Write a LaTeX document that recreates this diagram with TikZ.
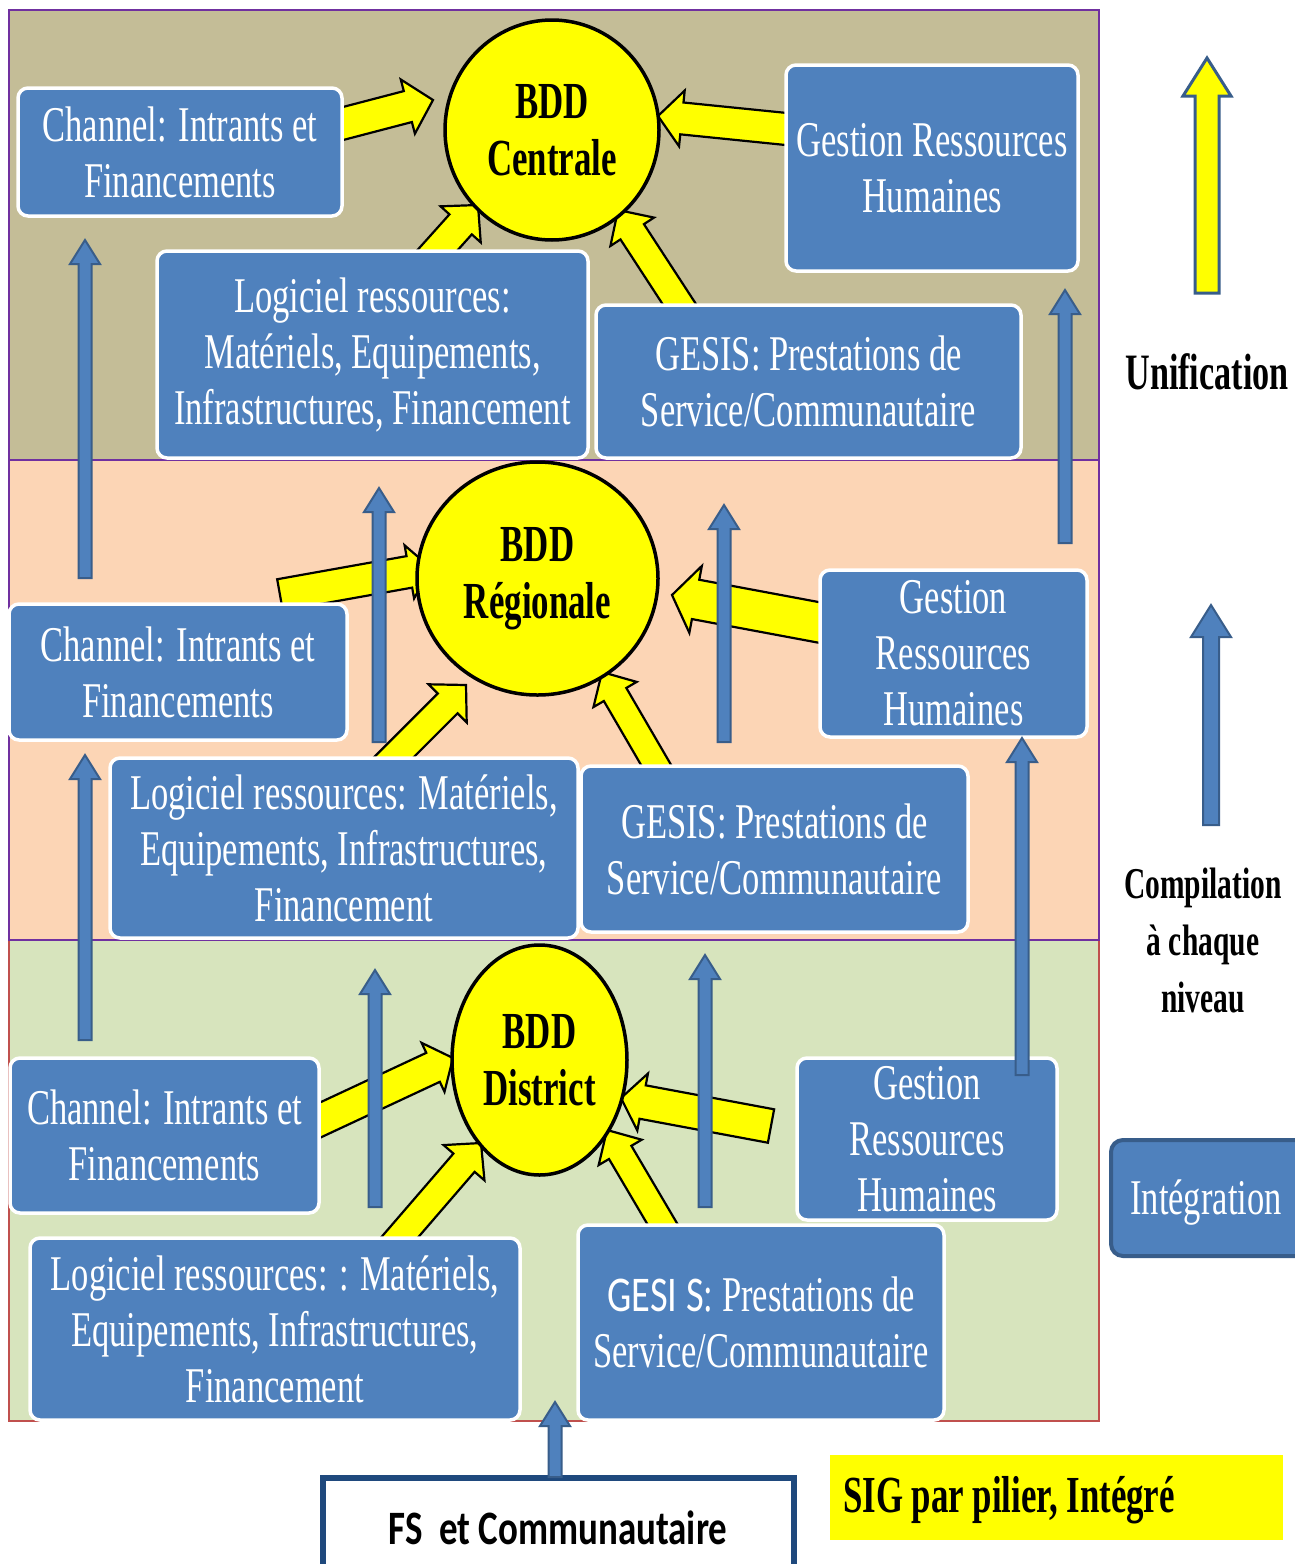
\documentclass[tikz,border=0pt]{standalone}
\usepackage{fontspec}
\setmainfont{Liberation Serif}
\newfontfamily\cnd[FakeStretch=0.69]{Liberation Serif}
\newfontfamily\cndbold[FakeStretch=0.67]{Liberation Serif Bold}
\newfontfamily\sansc[FakeStretch=0.77]{Carlito}
\usetikzlibrary{shapes.geometric,calc}

\definecolor{tanbg}{HTML}{C4BD97}
\definecolor{peachbg}{HTML}{FCD5B5}
\definecolor{greenbg}{HTML}{D7E4BD}
\definecolor{boxblue}{HTML}{4F81BD}
\definecolor{edgeblue}{HTML}{385D8A}
\definecolor{navy}{HTML}{1F497D}
\definecolor{bandpurple}{HTML}{7030A0}
\definecolor{bandred}{HTML}{C0504D}
\definecolor{dbyellow}{HTML}{FFFF00}

\pgfdeclarelayer{bands}
\pgfdeclarelayer{flows}
\pgfdeclarelayer{ups}
\pgfsetlayers{bands,flows,main,ups}

% block arrow: style, tail, tip, shaft half width, head half width, head length
\newcommand\blockarrow[6]{%
  \coordinate (ba-h) at ($(#3)!#6!(#2)$);
  \path[#1] ($(#2)!#4!90:(#3)$) -- ($(ba-h)!#4!90:(#3)$) -- ($(ba-h)!#5!90:(#3)$) -- (#3)
    -- ($(ba-h)!#5!-90:(#3)$) -- ($(ba-h)!#4!-90:(#3)$) -- ($(#2)!#4!-90:(#3)$) -- cycle;}

% blue box given by its corners
\newcommand\boxat[6]{%
  \node[box, minimum width={#4-#2}, minimum height={#5-#3}] (#1) at ({(#2+#4)/2},{(#3+#5)/2}) {#6};}

\tikzset{
  box/.style={rectangle, rounded corners=10pt, draw=white, line width=3.5pt, fill=boxblue,
    text=white, align=center, inner sep=0pt, font=\cnd\fontsize{50}{56}\selectfont},
  db/.style={ellipse, draw=black, line width=3.5pt, fill=dbyellow, align=center, inner sep=0pt,
    font=\cndbold\fontsize{52}{57}\selectfont},
  yarrow/.style={fill=dbyellow, draw=black, line width=2.2pt, line join=miter},
  barrow/.style={fill=boxblue, draw=edgeblue, line width=2pt},
  sidetext/.style={align=center, inner sep=0pt, font=\cndbold\fontsize{51}{56}\selectfont},
}

\begin{document}
\begin{tikzpicture}[x=1pt,y=-1pt]
\useasboundingbox (0,0) rectangle (1295,1564);

\begin{pgfonlayer}{bands}
  \fill[white] (0,0) rectangle (1295,1564);
  \fill[tanbg] (9,10) rectangle (1099,460);
  \fill[peachbg] (9,460) rectangle (1099,940);
  \fill[greenbg] (9,940) rectangle (1099,1421);
  \draw[bandred, line width=1.5pt] (9,940) rectangle (1099,1421);
  \draw[bandpurple, line width=1.5pt] (9,460) rectangle (1099,940);
  \draw[bandpurple, line width=1.5pt] (9,10) rectangle (1099,460);
\end{pgfonlayer}

% databases
\node[db, minimum width=214, minimum height=220] (cT) at (552,130) {BDD\\Centrale};
\node[db, minimum width=241, minimum height=233] (cM) at (537.5,578.5) {BDD\\Régionale};
\node[db, minimum width=175, minimum height=230] (cB) at (539.5,1060) {BDD\\District};

% central level
\boxat{chT}{18}{88}{342}{216}{Channel: Intrants et\\Financements}
\boxat{grT}{786}{65}{1078}{271}{Gestion Ressources\\Humaines}
\boxat{lgT}{157}{251}{588}{458}{Logiciel ressources:\\Matériels, Equipements,\\Infrastructures, Financement}
\boxat{geT}{596}{305}{1021}{458}{GESIS: Prestations de\\Service/Communautaire}

% regional level
\boxat{chM}{9}{604}{347}{740}{Channel: Intrants et\\Financements}
\boxat{grM}{820}{570}{1087}{737}{Gestion\\Ressources\\Humaines}
\boxat{lgM}{110}{758}{578}{938}{Logiciel ressources: Matériels,\\Equipements, Infrastructures,\\Financement}
\boxat{geM}{581}{766}{968}{932}{GESIS: Prestations de\\Service/Communautaire}

% district level
\boxat{chB}{10}{1058}{319}{1213}{Channel: Intrants et\\Financements}
\boxat{grB}{797}{1058}{1057}{1220}{Gestion\\Ressources\\Humaines}
\boxat{lgB}{30}{1238}{520}{1420}{Logiciel ressources: : Matériels,\\Equipements, Infrastructures,\\Financement}
\boxat{geB}{578}{1225}{944}{1420}{{\sansc GESI S}: Prestations de\\Service/Communautaire}

% arrow end points
\coordinate (y1a) at (322,129);  \coordinate (y1b) at (433,100);
\coordinate (y2a) at (806,131);  \coordinate (y2b) at (658,116);
\coordinate (y3a) at (417,273);  \coordinate (y3b) at (478,205);
\coordinate (y4a) at (691,322);  \coordinate (y4b) at (618,210);
\coordinate (y5a) at (280,595);  \coordinate (y5b) at (431,568);
\coordinate (y6a) at (838,626);  \coordinate (y6b) at (672,595);
\coordinate (y7a) at (380,771);  \coordinate (y7b) at (466,685);
\coordinate (y8a) at (666,782);  \coordinate (y8b) at (602,672);
\coordinate (y9a) at (301,1129); \coordinate (y9b) at (453,1058);
\coordinate (y10a) at (771,1126); \coordinate (y10b) at (621,1098);
\coordinate (y11a) at (387,1252); \coordinate (y11b) at (481,1143);
\coordinate (y12a) at (673,1242); \coordinate (y12b) at (607,1130);

\begin{pgfonlayer}{flows}
  \blockarrow{yarrow}{y1a}{y1b}{16pt}{28pt}{26pt}
  \blockarrow{yarrow}{y2a}{y2b}{16pt}{28pt}{24pt}
  \blockarrow{yarrow}{y3a}{y3b}{15pt}{27pt}{26pt}
  \blockarrow{yarrow}{y4a}{y4b}{14pt}{26pt}{26pt}
  \blockarrow{yarrow}{y5a}{y5b}{16pt}{27pt}{22pt}
  \blockarrow{yarrow}{y6a}{y6b}{20pt}{34pt}{24pt}
  \blockarrow{yarrow}{y7a}{y7b}{14pt}{27pt}{26pt}
  \blockarrow{yarrow}{y8a}{y8b}{13pt}{25pt}{26pt}
  \blockarrow{yarrow}{y9a}{y9b}{16pt}{27pt}{22pt}
  \blockarrow{yarrow}{y10a}{y10b}{17pt}{29pt}{22pt}
  \blockarrow{yarrow}{y11a}{y11b}{14pt}{27pt}{26pt}
  \blockarrow{yarrow}{y12a}{y12b}{13pt}{25pt}{26pt}
\end{pgfonlayer}

% upward flows between levels
\coordinate (u1a) at (85,578);   \coordinate (u1b) at (85,240);
\coordinate (u2a) at (1065,543); \coordinate (u2b) at (1065,290);
\coordinate (u3a) at (379,742);  \coordinate (u3b) at (379,488);
\coordinate (u4a) at (724,742);  \coordinate (u4b) at (724,505);
\coordinate (u5a) at (85,1040);  \coordinate (u5b) at (85,755);
\coordinate (u6a) at (1022,1075); \coordinate (u6b) at (1022,738);
\coordinate (u7a) at (375,1207); \coordinate (u7b) at (375,970);
\coordinate (u8a) at (705,1207); \coordinate (u8b) at (705,955);
\coordinate (u9a) at (555,1477); \coordinate (u9b) at (555,1402);
\coordinate (u10a) at (1211,825); \coordinate (u10b) at (1211,605);
\coordinate (u11a) at (1207,293); \coordinate (u11b) at (1207,58);

% legend column
\node[sidetext] (unif) at (1207,372) {Unification};
\node[sidetext, font=\cndbold\fontsize{44}{57}\selectfont] (comp) at (1203,940) {Compilation\\à chaque\\niveau};
\path[fill=boxblue, draw=edgeblue, line width=4pt, rounded corners=12pt] (1111,1140) rectangle (1320,1256);
\node[text=white, font=\cnd\fontsize{50}{56}\selectfont, inner sep=0pt] (integ) at (1206,1202) {Intégration};
\node[fill=dbyellow, minimum width=453, minimum height=85, inner sep=0pt] (sig) at (1056.5,1497.5) {};
\node[anchor=west, inner sep=0pt, font=\cndbold\fontsize{52}{56}\selectfont] (sigt) at (843,1500) {SIG par pilier, Intégré};

\draw[navy, line width=6pt, fill=white] (323,1478) rectangle (794,1600);
\node[font=\sansc\bfseries\fontsize{48}{56}\selectfont, inner sep=0pt] (fs) at (558,1528) {FS\ \ et Communautaire};

\begin{pgfonlayer}{ups}
  \foreach \i in {1,...,9} {\blockarrow{barrow}{u\i a}{u\i b}{6.5pt}{15pt}{24pt}}
  \blockarrow{barrow}{u10a}{u10b}{8pt}{20pt}{32pt}
  \blockarrow{barrow, fill=dbyellow, line width=3pt}{u11a}{u11b}{12pt}{24pt}{38pt}
\end{pgfonlayer}
\end{tikzpicture}
\end{document}
